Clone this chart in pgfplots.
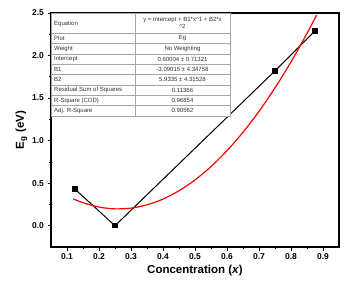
\documentclass[border=0pt]{standalone}
\usepackage{fontspec}
\setmainfont{Liberation Sans}
\usepackage{pgfplots}
\pgfplotsset{compat=1.18}
\begin{document}
\begin{tikzpicture}
\begin{axis}[
 scale only axis, width=288pt, height=234pt,
 xmin=0.05, xmax=0.95, ymin=-0.25, ymax=2.5,
 xtick={0.1,0.2,0.3,0.4,0.5,0.6,0.7,0.8,0.9},
 ytick={0,0.5,1,1.5,2,2.5},
 minor x tick num=1, minor y tick num=1,
 tick align=outside, xtick pos=left, ytick pos=left,
 major tick length=3.5pt, minor tick length=2pt,
 axis line style={line width=1.2pt},
 every tick/.style={black, line width=0.8pt},
 /pgf/number format/assume math mode=true,
 xticklabel style={/pgf/number format/.cd, fixed, fixed zerofill, precision=1},
 yticklabel style={/pgf/number format/.cd, fixed, fixed zerofill, precision=1},
 tick label style={font=\fontsize{8.5}{10}\selectfont\bfseries},
 xlabel={Concentration (\textit{x})},
 ylabel={E\textsubscript{g} (eV)},
 label style={font=\fontsize{11.5}{13}\selectfont\bfseries},
 xlabel style={yshift=2pt},
 ylabel style={yshift=-2pt},
]
\addplot[black, line width=1pt, mark=square*, mark size=2.2pt] coordinates {
 (0.125,0.43) (0.25,0.0) (0.75,1.82) (0.875,2.29)
};
\addplot[red, line width=1.2pt, smooth] coordinates {
 (0.12,0.31466) (0.15,0.27002) (0.20,0.21935) (0.25,0.19835) (0.30,0.20701)
 (0.35,0.24534) (0.40,0.31334) (0.45,0.41101) (0.50,0.53834) (0.55,0.69534)
 (0.60,0.88201) (0.65,1.09835) (0.70,1.34435) (0.75,1.62002) (0.80,1.92536)
 (0.85,2.26037) (0.88,2.47551)
};
\end{axis}
\begin{scope}[x=1pt,y=1pt, every node/.style={font=\fontsize{6}{6.8}\selectfont, text=black!80, inner sep=0pt}]
 \fill[white] (0.6,131) rectangle (179,233.4);
 \draw[gray!70, line width=0.4pt] (0,131) rectangle (179,234);
 \draw[gray!70, line width=0.4pt] (84,131) -- (84,234);
 \foreach \i in {0,...,7} {
   \draw[gray!70, line width=0.4pt] (0,{214-10.375*\i}) -- (179,{214-10.375*\i});
 }
 \node[anchor=west] at (3,223.5) {Equation};
 \node[align=center] at (131.5,224) {y = Intercept + B1*x\textasciicircum1 + B2*x\\\textasciicircum2};
 \foreach \lab/\val [count=\k from 0] in {Plot/Eg, Weight/No Weighting, Intercept/0.60004 ± 0.71321, B1/-3.09015 ± 4.34758, B2/5.9335 ± 4.31528, Residual Sum of Squares/0.11366, R-Square (COD)/0.96854, Adj. R-Square/0.90562} {
   \node[anchor=west] at (3,{214-10.375*\k-5.2}) {\lab};
   \node at (131.5,{214-10.375*\k-5.2}) {\val};
 }
\end{scope}
\pgfresetboundingbox
\path (-51pt,-35pt) rectangle (296pt,247pt);
\end{tikzpicture}
\end{document}
